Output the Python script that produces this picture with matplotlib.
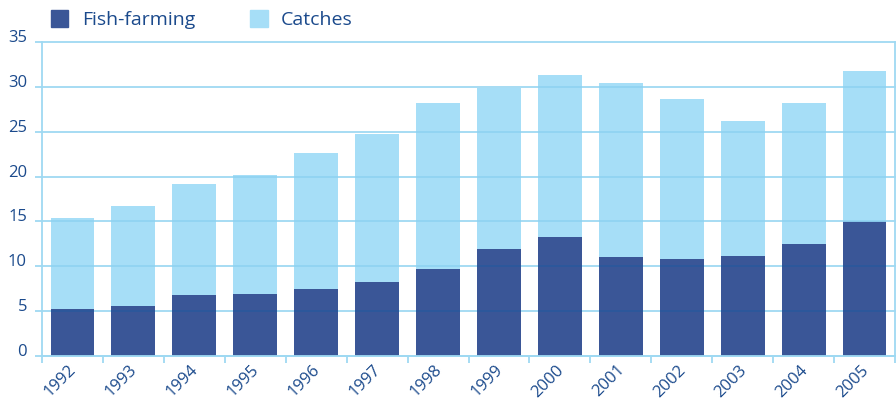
import matplotlib.pyplot as plt
import matplotlib.transforms as mtransforms
from matplotlib.patches import Patch
import numpy as np

plt.rcParams['font.family'] = ['Open Sans', 'DejaVu Sans']

# Данные
years = ['1992', '1993', '1994', '1995', '1996', '1997', '1998',
         '1999', '2000', '2001', '2002', '2003', '2004', '2005']
fish_farming = [5.2, 5.55, 6.8, 6.9, 7.5, 8.2, 9.7, 11.9, 13.3, 11.0, 10.85, 11.2, 12.5, 15.0]
totals = [15.4, 16.7, 19.2, 20.2, 22.6, 24.7, 28.2, 29.9, 31.3, 30.4, 28.7, 26.2, 28.2, 31.8]
catches = [t - f for t, f in zip(totals, fish_farming)]
y_ticks = [0, 5, 10, 15, 20, 25, 30, 35]

dark = '#3A5697'
light = '#A6DEF7'
grid_col = '#9FD9F2'
text_col = '#1B4A8C'

fig = plt.figure(figsize=(8.96, 4.0), dpi=100)
ax = fig.add_axes([42 / 896, 1 - 356 / 400, 853 / 896, 314 / 400])

x = np.arange(len(years))
w = 0.72
ax.bar(x, fish_farming, w, color=dark, zorder=2)
ax.bar(x, catches, w, bottom=fish_farming, color=light, zorder=2)

# Сетка за столбцами
for g in y_ticks:
    ax.axhline(g, color=grid_col, lw=1.3, zorder=1, clip_on=False)

# Сетка поверх столбцов (эффект наложения)
for i in range(len(years)):
    for g in y_ticks[1:]:
        if g < fish_farming[i]:
            ax.hlines(g, x[i] - w / 2, x[i] + w / 2, color='#2B589C', lw=1.3, zorder=3)
        elif g < totals[i]:
            ax.hlines(g, x[i] - w / 2, x[i] + w / 2, color='#90D3F2', lw=1.3, zorder=3)

ax.set_xlim(-0.5, len(years) - 0.5)
ax.set_ylim(0, 35)

ax.spines['top'].set_visible(False)
for s in ['left', 'right', 'bottom']:
    ax.spines[s].set_color(grid_col)
    ax.spines[s].set_linewidth(1.3)

# Подписи оси Y на линиях сетки
ax.set_yticks(y_ticks)
ax.set_yticklabels([])
ax.tick_params(axis='y', length=5, width=1.3, color=grid_col, direction='out')
for g in y_ticks:
    ax.text(-15 / 61 - 0.5, g, str(g), ha='right', va='baseline', fontsize=12,
            color=text_col, transform=ax.transData)

# Деления оси X между столбцами
ax.set_xticks(np.arange(-0.5, len(years)), minor=True)
ax.tick_params(axis='x', which='minor', length=5, width=1.3, color=grid_col, direction='out')
ax.set_xticks(x)
ax.set_xticklabels([])
ax.tick_params(axis='x', which='major', length=0)
offset = mtransforms.ScaledTranslation(7 / 100, -6 / 100, fig.dpi_scale_trans)
for i, yr in enumerate(years):
    ax.text(x[i], 0, yr, rotation=45, ha='right', va='top', fontsize=12,
            color=text_col, transform=ax.transData + offset)

# Легенда
handles = [Patch(color=dark, label='Fish-farming'), Patch(color=light, label='Catches')]
leg = fig.legend(handles=handles, loc='upper left', bbox_to_anchor=(37 / 896, 1.008), ncol=2,
                 frameon=False, fontsize=14, handlelength=0.9, handleheight=0.9,
                 handletextpad=0.7, columnspacing=2.83, borderaxespad=0.3)
for t in leg.get_texts():
    t.set_color(text_col)

fig.savefig('out.png', dpi=100)
